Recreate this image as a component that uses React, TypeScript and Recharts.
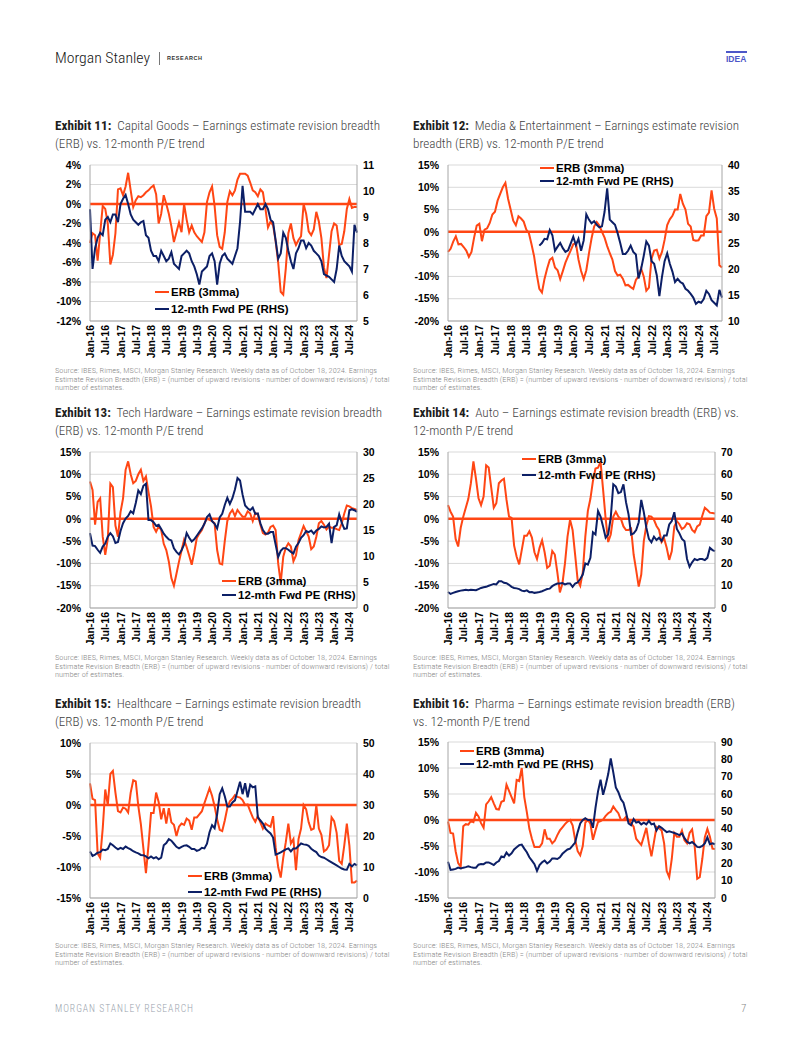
import React, { useLayoutEffect, useRef, useState } from 'react';
import { LineChart, Line, XAxis, YAxis, CartesianGrid, ReferenceLine } from 'recharts';

// ---------- categories ----------
const MONTH_NAMES = ['Jan', 'Feb', 'Mar', 'Apr', 'May', 'Jun', 'Jul', 'Aug', 'Sep', 'Oct', 'Nov', 'Dec'];
const YEAR_SUFFIXES = ['16', '17', '18', '19', '20', '21', '22', '23', '24'];
const LAST_MONTH_INDEX = 9; // Oct-24
const MONTH_LABELS: string[] = [];
YEAR_SUFFIXES.forEach((y, yi) => {
  MONTH_NAMES.forEach((m, mi) => {
    if (yi < YEAR_SUFFIXES.length - 1 || mi <= LAST_MONTH_INDEX) MONTH_LABELS.push(`${m}-${y}`);
  });
});

// ---------- Exhibit 11: Capital Goods ----------
const capGoodsErb = [
  -4.0, -3.0, -3.2, -5.8, -3.0, -0.2, -0.5, -2.0, -6.2, -5.2,
  -3.0, 1.5, 1.6, 0.9, 1.8, 3.2, 1.4, -0.3, 0.4, 0.8,
  0.7, 0.9, 1.2, 1.4, 1.7, 1.9, 1.0, -2.0, -1.0, 0.9,
  0.0, -1.0, -2.3, -3.9, -2.9, -1.9, -2.9, 0.0, -1.6, -2.9,
  -2.2, -2.9, -3.3, -3.6, -3.9, -2.9, 0.2, 1.2, 1.8, -0.2,
  -3.2, -4.4, -4.6, -2.9, 0.2, 1.3, 0.9, 1.4, 2.5, 3.1,
  3.1, 3.1, 2.9, 2.2, 1.4, 1.2, 0.8, 1.5, 1.2, -0.5,
  -2.4, -1.8, -2.2, -3.8, -6.0, -9.0, -9.3, -6.6, -3.0, -2.0,
  -3.5, -4.2, -3.7, -3.3, 0.0, -1.0, -2.8, -3.2, -2.6, -0.8,
  -1.8, -3.5, -6.5, -7.6, -5.2, -2.8, -2.0, -2.2, -4.2, -4.1,
  -2.8, -0.5, 0.5, -0.4, -0.3, -0.3,
];
const capGoodsPe = [
  9.3, 7.0, 7.8, 8.2, 8.4, 8.3, 8.9, 9.0, 8.8, 9.1,
  9.1, 8.8, 9.5, 9.7, 9.85, 9.5, 9.1, 8.9, 8.8, 8.7,
  8.8, 8.85, 8.3, 8.2, 7.7, 7.5, 7.5, 7.3, 7.7, 7.5,
  7.3, 7.4, 7.65, 7.2, 7.1, 7.0, 7.5, 7.6, 7.7, 7.6,
  7.3, 7.1, 6.8, 6.4, 6.9, 7.0, 7.1, 7.5, 7.6, 7.3,
  6.4, 7.2, 7.5, 7.6, 7.4, 7.3, 7.2, 7.5, 7.8, 8.8,
  10.2, 9.2, 9.2, 9.2, 9.1, 9.3, 9.5, 9.3, 9.3, 9.5,
  9.3, 8.9, 8.8, 8.1, 7.4, 7.6, 8.4, 8.2, 7.7, 7.3,
  7.0, 7.6, 7.8, 8.1, 8.1, 7.8, 8.0, 7.9, 7.7, 7.6,
  7.5, 7.3, 6.8, 6.75, 6.7, 6.6, 6.5, 7.0, 7.9, 7.5,
  7.3, 7.2, 7.1, 6.9, 8.7, 8.4,
];

// ---------- Exhibit 12: Media & Entertainment ----------
const mediaErb = [
  -4.5, -3.8, -2.2, -1.0, -2.8, -2.7, -3.4, -4.2, -5.6, -4.5,
  -1.3, 1.4, 1.8, -2.1, 0.5, 0.8, 2.0, 3.9, 4.5, 7.0,
  8.5, 10.0, 11.0, 7.5, 5.0, 2.5, 1.5, 3.5, 3.0, 2.3,
  0.5, -0.3, -2.8, -5.5, -9.5, -12.8, -13.6, -10.5, -8.2, -6.3,
  -5.8, -8.0, -8.6, -10.6, -8.8, -6.9, -5.5, -4.2, -2.8, -2.5,
  -6.2, -8.8, -10.6, -8.6, -4.9, -1.5, 1.2, 2.2, 1.4, 0.0,
  -1.3, -3.2, -4.8, -6.2, -8.8, -9.8, -9.6, -10.5, -12.0, -11.9,
  -12.4, -12.8, -10.8, -10.0, -8.2, -10.0, -13.2, -12.5, -6.0, -4.2,
  -4.0, -6.0, -4.5, -1.8, 1.5, 2.8, 3.6, 5.0, 5.0, 8.5,
  6.3, 5.0, 1.8, 1.2, -1.8, -2.0, -1.9, -0.8, -0.8, 3.5,
  4.3, 9.3, 5.2, 3.0, -7.5, -8.0,
];
const MEDIA_PE_START = 35; // series begins Dec-18
const mediaPeValues = [
  24.5, 25.0, 25.8, 25.7, 27.5, 26.5, 23.5, 24.3, 25.0, 24.0,
  23.3, 23.6, 24.9, 26.2, 24.6, 25.8, 23.5, 25.5, 30.5, 29.5,
  28.8, 29.2, 28.5, 28.0, 28.2, 31.0, 35.5, 29.5, 29.0, 28.5,
  26.9, 25.0, 22.9, 22.9, 23.5, 24.5, 23.3, 22.8, 18.2, 20.0,
  22.5, 25.3, 24.5, 21.5, 21.0, 18.8, 14.8, 18.5, 21.5, 23.0,
  21.0, 19.5, 17.5, 18.1, 17.5, 17.2, 16.2, 15.8, 15.2, 14.5,
  13.3, 13.7, 13.5, 14.2, 15.8, 15.2, 14.0, 13.5, 13.0, 16.0,
  14.5,
];

// ---------- Exhibit 13: Tech Hardware ----------
const techErb = [
  8.4, 6.5, -1.3, 3.8, 4.6, -4.0, -8.1, -4.5, 7.9, 7.1,
  -1.5, -4.0, 1.5, 4.6, 11.0, 12.9, 10.0, 8.0, 8.5, 10.0,
  11.0, 8.5, 9.5, 6.0, 2.8, -1.8, -2.9, -1.7, -2.5, -5.6,
  -7.0, -9.6, -13.3, -15.0, -12.3, -9.6, -7.1, -4.7, -6.3, -8.2,
  -10.3, -7.5, -4.3, -3.3, -2.5, -1.0, 0.0, -0.2, -0.5, -1.0,
  -7.0, -10.0, -10.2, -5.0, -0.5, 1.2, 2.0, 0.6, 2.0, 1.2,
  0.5, 0.5, 1.7, 1.2, -0.5, 1.3, 1.0, -1.3, -3.2, -3.5,
  -3.1, -1.8, -1.5, -2.5, -10.0, -14.3, -8.5, -6.5, -5.5, -6.2,
  -9.5, -8.2, -4.8, -3.2, -1.6, -2.8, -4.0, -6.8, -6.2, -4.0,
  -1.0, -0.5, -1.3, -2.4, -1.7, -2.0, -2.0, -2.3, -2.5, -1.0,
  1.2, 3.0, 2.8, 2.4, 2.2, 2.0,
];
const techPe = [
  14.4, 12.0, 11.9, 11.2, 10.6, 11.8, 12.4, 13.7, 14.4, 13.8,
  12.5, 12.7, 14.8, 16.3, 17.2, 17.7, 18.6, 18.2, 20.2, 22.6,
  21.9, 23.5, 23.9, 16.9, 16.9, 16.5, 15.8, 16.0, 15.2, 14.3,
  13.7, 13.2, 13.0, 11.5, 10.8, 10.3, 11.1, 12.2, 14.4, 13.5,
  12.8, 13.2, 13.9, 14.6, 15.3, 16.2, 17.5, 18.0, 16.7, 16.2,
  15.3, 17.4, 18.1, 19.8, 21.2, 20.0, 21.1, 22.8, 25.0, 24.5,
  21.8, 19.7, 19.2, 18.8, 19.3, 18.1, 18.2, 16.3, 15.0, 14.3,
  14.3, 14.6, 14.6, 12.2, 9.8, 11.0, 11.5, 11.5, 11.2, 10.8,
  10.5, 11.8, 12.5, 13.5, 14.0, 14.8, 14.6, 14.9, 14.3, 14.9,
  15.2, 15.7, 15.5, 15.6, 16.2, 12.5, 15.6, 15.9, 18.0, 16.4,
  15.2, 15.3, 18.8, 19.0, 18.8, 18.5,
];

// ---------- Exhibit 14: Auto ----------
const autoErb = [
  3.1, 1.6, 0.5, -4.5, -6.2, -2.0, 0.5, 2.5, 4.5, 8.0,
  12.9, 9.0, 4.6, 3.1, 5.0, 12.0, 11.5, 7.0, 2.5, 3.5,
  8.0, 8.6, 9.0, 4.3, 0.5, 0.2, -6.0, -8.5, -10.2, -7.0,
  -3.8, -3.8, -2.8, -4.2, -7.5, -9.0, -6.5, -4.8, -7.5, -11.0,
  -10.5, -7.2, -8.0, -12.0, -16.5, -14.5, -10.0, -4.0, -0.2, -2.5,
  -8.1, -13.8, -15.0, -12.0, -4.0, 1.8, 4.5, 8.5, 11.3, 11.5,
  12.8, 6.5, 0.0, -5.2, -3.5, 0.5, 1.6, 0.5, 0.0, -1.7,
  -2.5, -2.5, -2.2, -8.0, -11.5, -15.2, -12.5, -5.0, -1.5, 0.6,
  0.5, -0.2, -1.6, -2.5, -5.2, -4.4, -6.5, -9.2, -7.3, -1.7,
  -0.5, -1.2, -2.3, -1.9, -1.0, -1.2, -2.5, -3.0, -1.7, -1.3,
  0.7, 2.5, 2.0, 1.4, 1.3, 1.2,
];
const autoPe = [
  7.2, 6.3, 6.8, 7.2, 7.5, 7.8, 8.0, 8.2, 8.0, 8.2,
  8.1, 8.0, 8.5, 9.0, 9.3, 9.5, 10.0, 10.4, 10.8, 10.6,
  12.0, 12.0, 11.3, 11.1, 10.4, 9.5, 9.0, 8.8, 8.5, 7.8,
  7.5, 7.9, 7.1, 7.2, 6.8, 7.0, 7.2, 7.5, 8.0, 8.5,
  8.7, 9.8, 10.5, 11.0, 11.0, 11.2, 10.6, 11.0, 11.0, 9.5,
  11.0, 11.5, 13.0, 15.0, 20.0, 19.5, 22.5, 34.0, 33.0, 43.5,
  41.0, 36.5, 31.5, 33.0, 40.5, 55.5, 54.5, 51.5, 52.0, 55.5,
  47.5, 42.0, 33.0, 33.5, 35.0, 38.5, 48.5, 43.0, 36.0, 31.0,
  29.5, 32.0, 30.5, 31.5, 30.0, 32.5, 32.5, 37.5, 39.0, 43.0,
  35.5, 33.5, 31.0, 30.0, 22.0, 18.5, 20.5, 22.0, 21.5, 22.0,
  22.0, 21.5, 22.5, 27.0, 26.0, 25.5,
];

// ---------- Exhibit 15: Healthcare ----------
const healthErb = [
  3.5, 1.0, 0.8, -7.8, -8.5, -3.8, 2.5, 0.0, 5.0, 5.5,
  2.0, -1.0, -1.2, -0.4, -0.6, -1.2, 2.0, 4.0, 3.8, -0.2,
  -3.1, -7.0, -11.0, -6.5, -1.3, -1.3, 2.0, 0.5, -2.3, -0.5,
  -3.0, -0.5, -2.8, -3.2, -5.0, -3.5, -3.0, -3.2, -2.2, -2.5,
  -4.0, -2.0, -2.0, -1.5, -1.0, 0.3, 1.5, 2.7, 1.5, -0.2,
  -2.3, -4.0, -4.2, -2.5, -0.5, 0.6, 1.0, 1.6, 1.3, 1.2,
  0.8, 0.0, 0.1, -1.0, -2.0, -2.7, -1.8, -2.8, -3.8, -3.0,
  -3.3, -3.5, -1.8, -6.8, -10.0, -11.7, -8.5, -6.0, -3.0, -6.2,
  -5.5, -10.5, -5.5, -3.8, 0.0, -0.7, -2.8, -4.0, -3.8, 0.0,
  -3.8, -4.8, -7.5, -7.2, -6.5, -2.0, -2.6, -4.5, -9.0, -9.5,
  -6.5, -3.0, -6.5, -12.5, -12.5, -12.2,
];
const healthPe = [
  15.0, 13.6, 14.0, 14.6, 14.8, 15.6, 15.4, 15.8, 17.6, 17.0,
  16.3, 15.7, 16.2, 15.8, 16.6, 16.1, 15.7, 15.1, 14.7, 14.4,
  13.9, 13.8, 13.4, 12.8, 13.4, 12.8, 13.2, 12.5, 13.0, 17.0,
  17.7, 19.0, 18.5, 17.5, 16.5, 16.0, 16.5, 16.9, 17.0, 16.5,
  15.8, 15.8, 15.2, 15.5, 16.2, 16.0, 17.5, 21.2, 23.5, 22.5,
  27.0, 33.5, 35.4, 32.8, 29.5, 29.5, 30.8, 31.5, 34.5, 37.5,
  33.5, 37.0, 32.5, 36.5, 35.7, 36.0, 26.0, 25.0, 24.0, 22.4,
  21.5, 20.8, 19.5, 14.0, 14.3, 14.7, 15.2, 15.7, 16.0, 15.0,
  16.0, 16.0, 16.8, 17.6, 17.3, 17.2, 16.8, 15.9, 15.3, 14.8,
  13.7, 13.2, 13.0, 12.5, 12.0, 11.5, 11.0, 10.5, 10.0, 9.5,
  9.2, 9.1, 11.0, 10.2, 11.0, 10.5,
];

// ---------- Exhibit 16: Pharma ----------
const pharmaErb = [
  -0.3, -2.5, -2.6, -6.0, -8.3, -9.0, -1.2, -0.8, -0.9, -0.2,
  -0.4, 1.4, 0.7, -0.6, -1.5, 3.0, 3.6, 4.4, 3.2, 2.1,
  2.0, 3.5, 3.7, 6.8, 5.6, 4.4, 3.2, 7.7, 7.5, 10.0,
  4.4, 1.5, -1.7, -3.6, -5.2, -5.2, -5.2, -4.5, -1.8, -3.6,
  -3.6, -4.5, -4.0, -2.9, -2.0, -1.4, -0.8, -0.3, 0.0, -1.0,
  -3.8, -6.0, -6.8, -5.0, -0.5, 0.0, -0.7, -3.8, -2.0, -0.4,
  -0.2, 0.1, 0.8, 1.3, 1.6, 2.6, 1.9, 1.3, 0.0, 0.0,
  0.6, 0.0, -0.6, -1.3, -3.6, -4.2, -4.8, -3.2, -1.5, -4.5,
  -7.0, -4.2, -1.3, -1.6, -2.0, -4.5, -9.8, -11.0, -7.5, -2.5,
  -3.2, -3.2, -2.0, -3.9, -4.5, -2.5, -1.8, -5.0, -11.3, -11.0,
  -7.5, -3.3, -1.7, -3.2, -5.5, -5.6,
];
const pharmaPe = [
  20.9, 16.2, 16.5, 16.8, 17.5, 17.0, 17.5, 17.8, 18.3, 17.8,
  17.5, 17.5, 19.2, 19.6, 19.5, 20.5, 20.5, 19.8, 19.0, 20.5,
  21.3, 24.0, 23.5, 26.2, 24.5, 25.8, 28.0, 29.3, 30.5, 30.8,
  28.5, 26.4, 23.5, 21.6, 19.5, 15.7, 19.0, 20.6, 21.6, 19.9,
  21.0, 22.8, 22.8, 22.5, 23.5, 25.5, 26.8, 28.0, 28.5, 30.2,
  32.0, 38.0, 43.0, 45.0, 46.0, 45.0, 45.0, 40.5, 52.0, 61.5,
  68.2, 59.5, 65.0, 71.5, 80.5, 72.5, 63.8, 61.0, 57.0, 55.0,
  49.5, 43.0, 42.0, 45.5, 43.5, 44.0, 42.5, 43.5, 42.5, 44.5,
  42.5, 43.0, 39.0, 41.5, 40.5, 39.2, 38.0, 38.5, 38.0, 37.5,
  37.0, 36.3, 37.2, 34.5, 32.5, 31.5, 32.3, 31.0, 29.5, 29.3,
  30.0, 31.5, 35.0, 31.0, 31.5, 31.0,
];

// ---------- axis ticks ----------
const capGoodsLeftTicks = [4, 2, 0, -2, -4, -6, -8, -10, -12];
const capGoodsRightTicks = [11, 10, 9, 8, 7, 6, 5];
const mediaLeftTicks = [15, 10, 5, 0, -5, -10, -15, -20];
const mediaRightTicks = [40, 35, 30, 25, 20, 15, 10];
const techLeftTicks = [15, 10, 5, 0, -5, -10, -15, -20];
const techRightTicks = [30, 25, 20, 15, 10, 5, 0];
const autoLeftTicks = [15, 10, 5, 0, -5, -10, -15, -20];
const autoRightTicks = [70, 60, 50, 40, 30, 20, 10, 0];
const healthLeftTicks = [10, 5, 0, -5, -10, -15];
const healthRightTicks = [50, 40, 30, 20, 10, 0];
const pharmaLeftTicks = [15, 10, 5, 0, -5, -10, -15];
const pharmaRightTicks = [90, 80, 70, 60, 50, 40, 30, 20, 10, 0];

// ---------- text ----------
const ERB_LABEL = 'ERB (3mma)';
const PE_LABEL = '12-mth Fwd PE (RHS)';
const SOURCE_LINES = [
  'Source: IBES, Rimes, MSCI, Morgan Stanley Research. Weekly data as of October 18, 2024. Earnings',
  'Estimate Revision Breadth (ERB) = (number of upward revisions - number of downward revisions) / total',
  'number of estimates.',
];

// ---------- style ----------
const ORANGE = '#ff4614';
const NAVY = '#0c1f66';
const AXIS_FONT = "'Liberation Sans', Arial, Helvetica, sans-serif";
const TEXT_FONT = "'Roboto Condensed', Roboto, 'Noto Sans', sans-serif";
const GRID = '#d9d9d9';
const AXIS_LINE = '#a6a6a6';

type PanelCfg = {
  key: string;
  exhibit: string;
  title1: string;
  title2: string;
  titleWidth: number;
  erb: (number | null)[];
  pe: (number | null)[];
  leftTicks: number[];
  rightTicks: number[];
  plotL: number;
  plotR: number;
  plotT: number;
  plotB: number;
  legendX: number;
  legendY: [number, number];
  textX: number;
  titleY: number;
  sourceY: number;
};

const mediaPe: (number | null)[] = [...new Array(MEDIA_PE_START).fill(null), ...mediaPeValues];

const PANELS: PanelCfg[] = [
  {
    key: 'cg', exhibit: 'Exhibit 11:', title1: 'Capital Goods – Earnings estimate revision breadth', title2: '(ERB) vs. 12-month P/E trend', titleWidth: 325,
    erb: capGoodsErb, pe: capGoodsPe, leftTicks: capGoodsLeftTicks, rightTicks: capGoodsRightTicks,
    plotL: 90, plotR: 357, plotT: 165, plotB: 321, legendX: 155, legendY: [292, 309], textX: 55, titleY: 117, sourceY: 367,
  },
  {
    key: 'me', exhibit: 'Exhibit 12:', title1: 'Media & Entertainment – Earnings estimate revision', title2: 'breadth (ERB) vs. 12-month P/E trend', titleWidth: 326,
    erb: mediaErb, pe: mediaPe, leftTicks: mediaLeftTicks, rightTicks: mediaRightTicks,
    plotL: 448, plotR: 722, plotT: 165, plotB: 321, legendX: 540, legendY: [168, 181], textX: 413, titleY: 117, sourceY: 367,
  },
  {
    key: 'th', exhibit: 'Exhibit 13:', title1: 'Tech Hardware – Earnings estimate revision breadth', title2: '(ERB) vs. 12-month P/E trend', titleWidth: 327,
    erb: techErb, pe: techPe, leftTicks: techLeftTicks, rightTicks: techRightTicks,
    plotL: 90, plotR: 357, plotT: 452, plotB: 608, legendX: 222, legendY: [581, 595], textX: 55, titleY: 404, sourceY: 654,
  },
  {
    key: 'au', exhibit: 'Exhibit 14:', title1: 'Auto – Earnings estimate revision breadth (ERB) vs.', title2: '12-month P/E trend', titleWidth: 326,
    erb: autoErb, pe: autoPe, leftTicks: autoLeftTicks, rightTicks: autoRightTicks,
    plotL: 448, plotR: 715, plotT: 452, plotB: 608, legendX: 522, legendY: [459, 475], textX: 413, titleY: 404, sourceY: 654,
  },
  {
    key: 'hc', exhibit: 'Exhibit 15:', title1: 'Healthcare – Earnings estimate revision breadth', title2: '(ERB) vs. 12-month P/E trend', titleWidth: 306,
    erb: healthErb, pe: healthPe, leftTicks: healthLeftTicks, rightTicks: healthRightTicks,
    plotL: 90, plotR: 357, plotT: 743, plotB: 898, legendX: 188, legendY: [876, 892], textX: 55, titleY: 695, sourceY: 942,
  },
  {
    key: 'ph', exhibit: 'Exhibit 16:', title1: 'Pharma – Earnings estimate revision breadth (ERB)', title2: 'vs. 12-month P/E trend', titleWidth: 322,
    erb: pharmaErb, pe: pharmaPe, leftTicks: pharmaLeftTicks, rightTicks: pharmaRightTicks,
    plotL: 448, plotR: 715, plotT: 742, plotB: 898, legendX: 460, legendY: [751, 764], textX: 413, titleY: 695, sourceY: 942,
  },
];

// ---------- helpers ----------
function FitLines({ lines, left, top, width, lineHeight, style }: {
  lines: React.ReactNode[]; left: number; top: number; width: number; lineHeight: number; style: React.CSSProperties;
}) {
  const ref = useRef<HTMLSpanElement>(null);
  const [k, setK] = useState(1);
  useLayoutEffect(() => {
    if (ref.current) {
      const w = ref.current.getBoundingClientRect().width;
      if (w > 0) setK(width / w);
    }
  }, [width]);
  return (
    <div style={{ position: 'absolute', left, top, lineHeight: `${lineHeight}px`, ...style }}>
      {lines.map((ln, i) => (
        <div key={i} style={{ height: lineHeight, whiteSpace: 'nowrap' }}>
          <span
            ref={i === 0 ? ref : undefined}
            style={{ display: 'inline-block', transform: `scaleX(${k})`, transformOrigin: '0 50%' }}
          >
            {ln}
          </span>
        </div>
      ))}
    </div>
  );
}

const XTick = (props: any) => {
  const { x, y, payload } = props;
  return (
    <text
      x={x}
      y={y}
      transform={`rotate(-90 ${x} ${y})`}
      textAnchor="end"
      dominantBaseline="central"
      fontFamily={AXIS_FONT}
      fontSize={10.5}
      fontWeight={700}
      fill="#000"
    >
      {payload.value}
    </text>
  );
};

function LegendBox({ x, ys }: { x: number; ys: [number, number] }) {
  const items = [
    { label: ERB_LABEL, color: ORANGE },
    { label: PE_LABEL, color: NAVY },
  ];
  return (
    <>
      {items.map((it, i) => (
        <div key={it.label} style={{ position: 'absolute', left: x, top: ys[i] - 8, height: 16, display: 'flex', alignItems: 'center' }}>
          <div style={{ width: 14, height: 2.5, background: it.color, marginRight: 2 }} />
          <span style={{ fontFamily: AXIS_FONT, fontWeight: 700, fontSize: 11.5, color: '#000', whiteSpace: 'nowrap' }}>{it.label}</span>
        </div>
      ))}
    </>
  );
}

function Panel({ cfg }: { cfg: PanelCfg }) {
  const LW = 45;
  const RW = 35;
  const TOP = 10;
  const XH = 45;
  const left = cfg.plotL - LW;
  const top = cfg.plotT - TOP;
  const width = cfg.plotR + RW - left;
  const height = cfg.plotB + XH - top;
  const data = MONTH_LABELS.map((d, i) => ({ date: d, erb: cfg.erb[i] ?? null, pe: cfg.pe[i] ?? null }));
  const lt = cfg.leftTicks;
  const rt = cfg.rightTicks;
  const tickStyle = { fill: '#000', fontSize: 10.5, fontWeight: 700, fontFamily: AXIS_FONT };
  return (
    <>
      <FitLines
        lines={[
          <>
            <span style={{ fontWeight: 700, color: '#1d1d1d' }}>{cfg.exhibit}</span>
            <span>{'\u00a0 ' + cfg.title1}</span>
          </>,
          cfg.title2,
        ]}
        left={cfg.textX}
        top={cfg.titleY}
        width={cfg.titleWidth}
        lineHeight={18}
        style={{ fontFamily: TEXT_FONT, fontSize: 13, fontWeight: 300, color: '#3f3f3f' }}
      />
      <div style={{ position: 'absolute', left, top, width, height }}>
        <LineChart width={width} height={height} data={data} margin={{ top: TOP, right: 0, bottom: 0, left: 0 }}>
          <CartesianGrid yAxisId="left" vertical={false} stroke={GRID} strokeWidth={1} />
          <XAxis
            dataKey="date"
            scale="point"
            interval={5}
            height={XH}
            tickSize={0}
            tickMargin={4}
            tickLine={false}
            axisLine={{ stroke: AXIS_LINE }}
            tick={(p: any) => <XTick {...p} />}
          />
          <YAxis
            yAxisId="left"
            width={LW}
            domain={[lt[lt.length - 1], lt[0]]}
            ticks={lt}
            interval={0}
            tickSize={0}
            tickMargin={9}
            tickLine={false}
            axisLine={{ stroke: AXIS_LINE }}
            tick={tickStyle}
            tickFormatter={(v: number) => `${v}%`}
          />
          <YAxis
            yAxisId="right"
            orientation="right"
            width={RW}
            domain={[rt[rt.length - 1], rt[0]]}
            ticks={rt}
            interval={0}
            tickSize={0}
            tickMargin={6}
            tickLine={false}
            axisLine={{ stroke: AXIS_LINE }}
            tick={tickStyle}
          />
          <ReferenceLine yAxisId="left" y={0} stroke={ORANGE} strokeWidth={2.5} />
          <Line yAxisId="left" type="linear" dataKey="erb" stroke={ORANGE} strokeWidth={2} dot={false} isAnimationActive={false} />
          <Line yAxisId="right" type="linear" dataKey="pe" stroke={NAVY} strokeWidth={2} dot={false} isAnimationActive={false} />
        </LineChart>
      </div>
      <LegendBox x={cfg.legendX} ys={cfg.legendY} />
      <FitLines
        lines={SOURCE_LINES}
        left={cfg.textX}
        top={cfg.sourceY}
        width={322}
        lineHeight={8.5}
        style={{ fontFamily: TEXT_FONT, fontSize: 7.3, fontWeight: 300, color: '#8a8a8a' }}
      />
    </>
  );
}

export default function App() {
  return (
    <div style={{ position: 'absolute', left: 0, top: 0, width: 802, height: 1037, background: '#fff', overflow: 'hidden' }}>
      {/* header */}
      <FitLines
        lines={['Morgan Stanley']}
        left={55}
        top={49}
        width={95}
        lineHeight={18}
        style={{ fontFamily: TEXT_FONT, fontSize: 15, fontWeight: 300, color: '#151515' }}
      />
      <div style={{ position: 'absolute', left: 159, top: 52, width: 1, height: 13, background: '#777' }} />
      <div style={{ position: 'absolute', left: 167, top: 54, fontFamily: AXIS_FONT, fontWeight: 700, fontSize: 5.5, letterSpacing: 0.6, color: '#333', lineHeight: '8px' }}>
        RESEARCH
      </div>
      <div style={{ position: 'absolute', left: 726, top: 51, width: 21, height: 2, background: '#4d57c8' }} />
      <div style={{ position: 'absolute', left: 726, top: 54, fontFamily: AXIS_FONT, fontWeight: 700, fontSize: 8.5, color: '#4d57c8', lineHeight: '10px' }}>
        IDEA
      </div>

      {PANELS.map((cfg) => (
        <Panel key={cfg.key} cfg={cfg} />
      ))}

      {/* footer */}
      <FitLines
        lines={['MORGAN STANLEY RESEARCH']}
        left={55}
        top={1001}
        width={139}
        lineHeight={16}
        style={{ fontFamily: TEXT_FONT, fontSize: 10, letterSpacing: 1, color: '#9aa3ad', fontWeight: 300 }}
      />
      <div style={{ position: 'absolute', left: 741, top: 1001, fontFamily: TEXT_FONT, fontSize: 11, color: '#8a8a8a', lineHeight: '16px', fontWeight: 300 }}>
        7
      </div>
    </div>
  );
}
